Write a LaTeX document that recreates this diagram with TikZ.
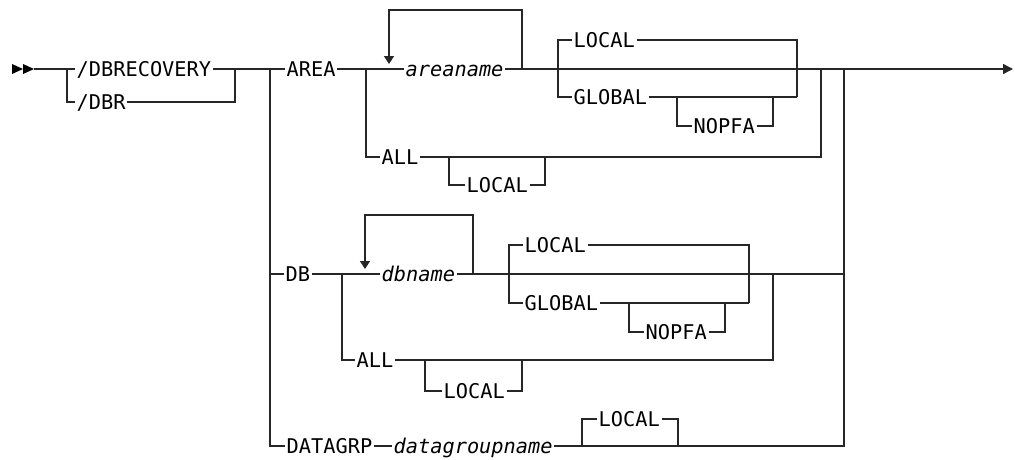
\documentclass[tikz,border=0pt]{standalone}
\usepackage{fontspec}
\newfontfamily\rrfont{DejaVu Sans Mono}
\usetikzlibrary{arrows.meta}
\tikzset{
  rail/.style={line width=1.4pt, line join=miter, draw=black!85},
  kw/.style={anchor=west, inner xsep=1.5pt, inner ysep=0pt, text height=14.8pt, text depth=0pt, font={\rrfont\fontsize{20.3}{24}\selectfont}},
  var/.style={kw, font={\rrfont\itshape\fontsize{20.3}{24}\selectfont}},
  looptip/.style={-{Triangle[length=8pt,width=10pt]}},
  endtip/.style={-{Triangle[length=10pt,width=10pt]}}
}
\begin{document}
\begin{tikzpicture}[x=1pt,y=-1pt]
\useasboundingbox (0,0) rectangle (1015,459);
% start marker
\fill[black] (12,64) -- (23,69) -- (12,74) -- cycle;
\fill[black] (23,64) -- (34,69) -- (23,74) -- cycle;
\coordinate (s) at (34,69);
\coordinate (e) at (1013,69);
% labels
\node[kw] (dbrec) at (75,69) {/DBRECOVERY};
\node[kw] (dbr) at (75,102) {/DBR};
\node[kw] (area) at (285,69) {AREA};
\node[var] (areaname) at (404,69) {areaname};
\node[kw] (local1) at (572,40) {LOCAL};
\node[kw] (global1) at (572,97) {GLOBAL};
\node[kw] (nopfa1) at (692,126) {NOPFA};
\node[kw] (all1) at (380,157) {ALL};
\node[kw] (local3) at (465,185) {LOCAL};
\node[kw] (db) at (284,274) {DB};
\node[var] (dbname) at (380,274) {dbname};
\node[kw] (local2) at (523,245) {LOCAL};
\node[kw] (global2) at (523,303) {GLOBAL};
\node[kw] (nopfa2) at (644,332) {NOPFA};
\node[kw] (all2) at (355,360) {ALL};
\node[kw] (local4) at (442,391) {LOCAL};
\node[kw] (datagrp) at (285,446) {DATAGRP};
\node[var] (dgname) at (392,446) {datagroupname};
\node[kw] (local5) at (597,419) {LOCAL};
% first choice
\draw[rail] (s) -- (dbrec.west);
\draw[rail] (67,69) |- (dbr.west);
\draw[rail] (dbrec.east) -- (235,69) -- (area.west);
\draw[rail] (dbr.east) -| (235,69);
% AREA row
\draw[rail] (area.east) -- (areaname.west);
\draw[rail, looptip] (522,69) -- (522,10) -- (389,10) -- (389,64);
\draw[rail, endtip] (areaname.east) -- (e);
\draw[rail] (558,69) |- (local1.west);
\draw[rail] (local1.east) -| (797,97);
\draw[rail] (558,69) |- (global1.west);
\draw[rail] (global1.east) -- (797,97);
\draw[rail] (677,97) |- (nopfa1.west);
\draw[rail] (nopfa1.east) -| (773,97);
\draw[rail] (366,69) |- (all1.west);
\draw[rail] (all1.east) -| (821,69);
\draw[rail] (449,157) |- (local3.west);
\draw[rail] (local3.east) -| (545,157);
% main vertical
\draw[rail] (270,69) |- (datagrp.west);
% DB row
\draw[rail] (270,274) -- (db.west);
\draw[rail] (db.east) -- (dbname.west);
\draw[rail, looptip] (473,274) -- (473,215) -- (365,215) -- (365,269);
\draw[rail] (dbname.east) -- (844,274);
\draw[rail] (509,274) |- (local2.west);
\draw[rail] (local2.east) -| (749,303);
\draw[rail] (509,274) |- (global2.west);
\draw[rail] (global2.east) -- (749,303);
\draw[rail] (629,303) |- (nopfa2.west);
\draw[rail] (nopfa2.east) -| (725,303);
\draw[rail] (342,274) |- (all2.west);
\draw[rail] (all2.east) -| (773,274);
\draw[rail] (425,360) |- (local4.west);
\draw[rail] (local4.east) -| (522,360);
% DATAGRP row
\draw[rail] (datagrp.east) -- (dgname.west);
\draw[rail] (dgname.east) -| (844,69);
\draw[rail] (582,446) |- (local5.west);
\draw[rail] (local5.east) -| (678,446);
\end{tikzpicture}
\end{document}
